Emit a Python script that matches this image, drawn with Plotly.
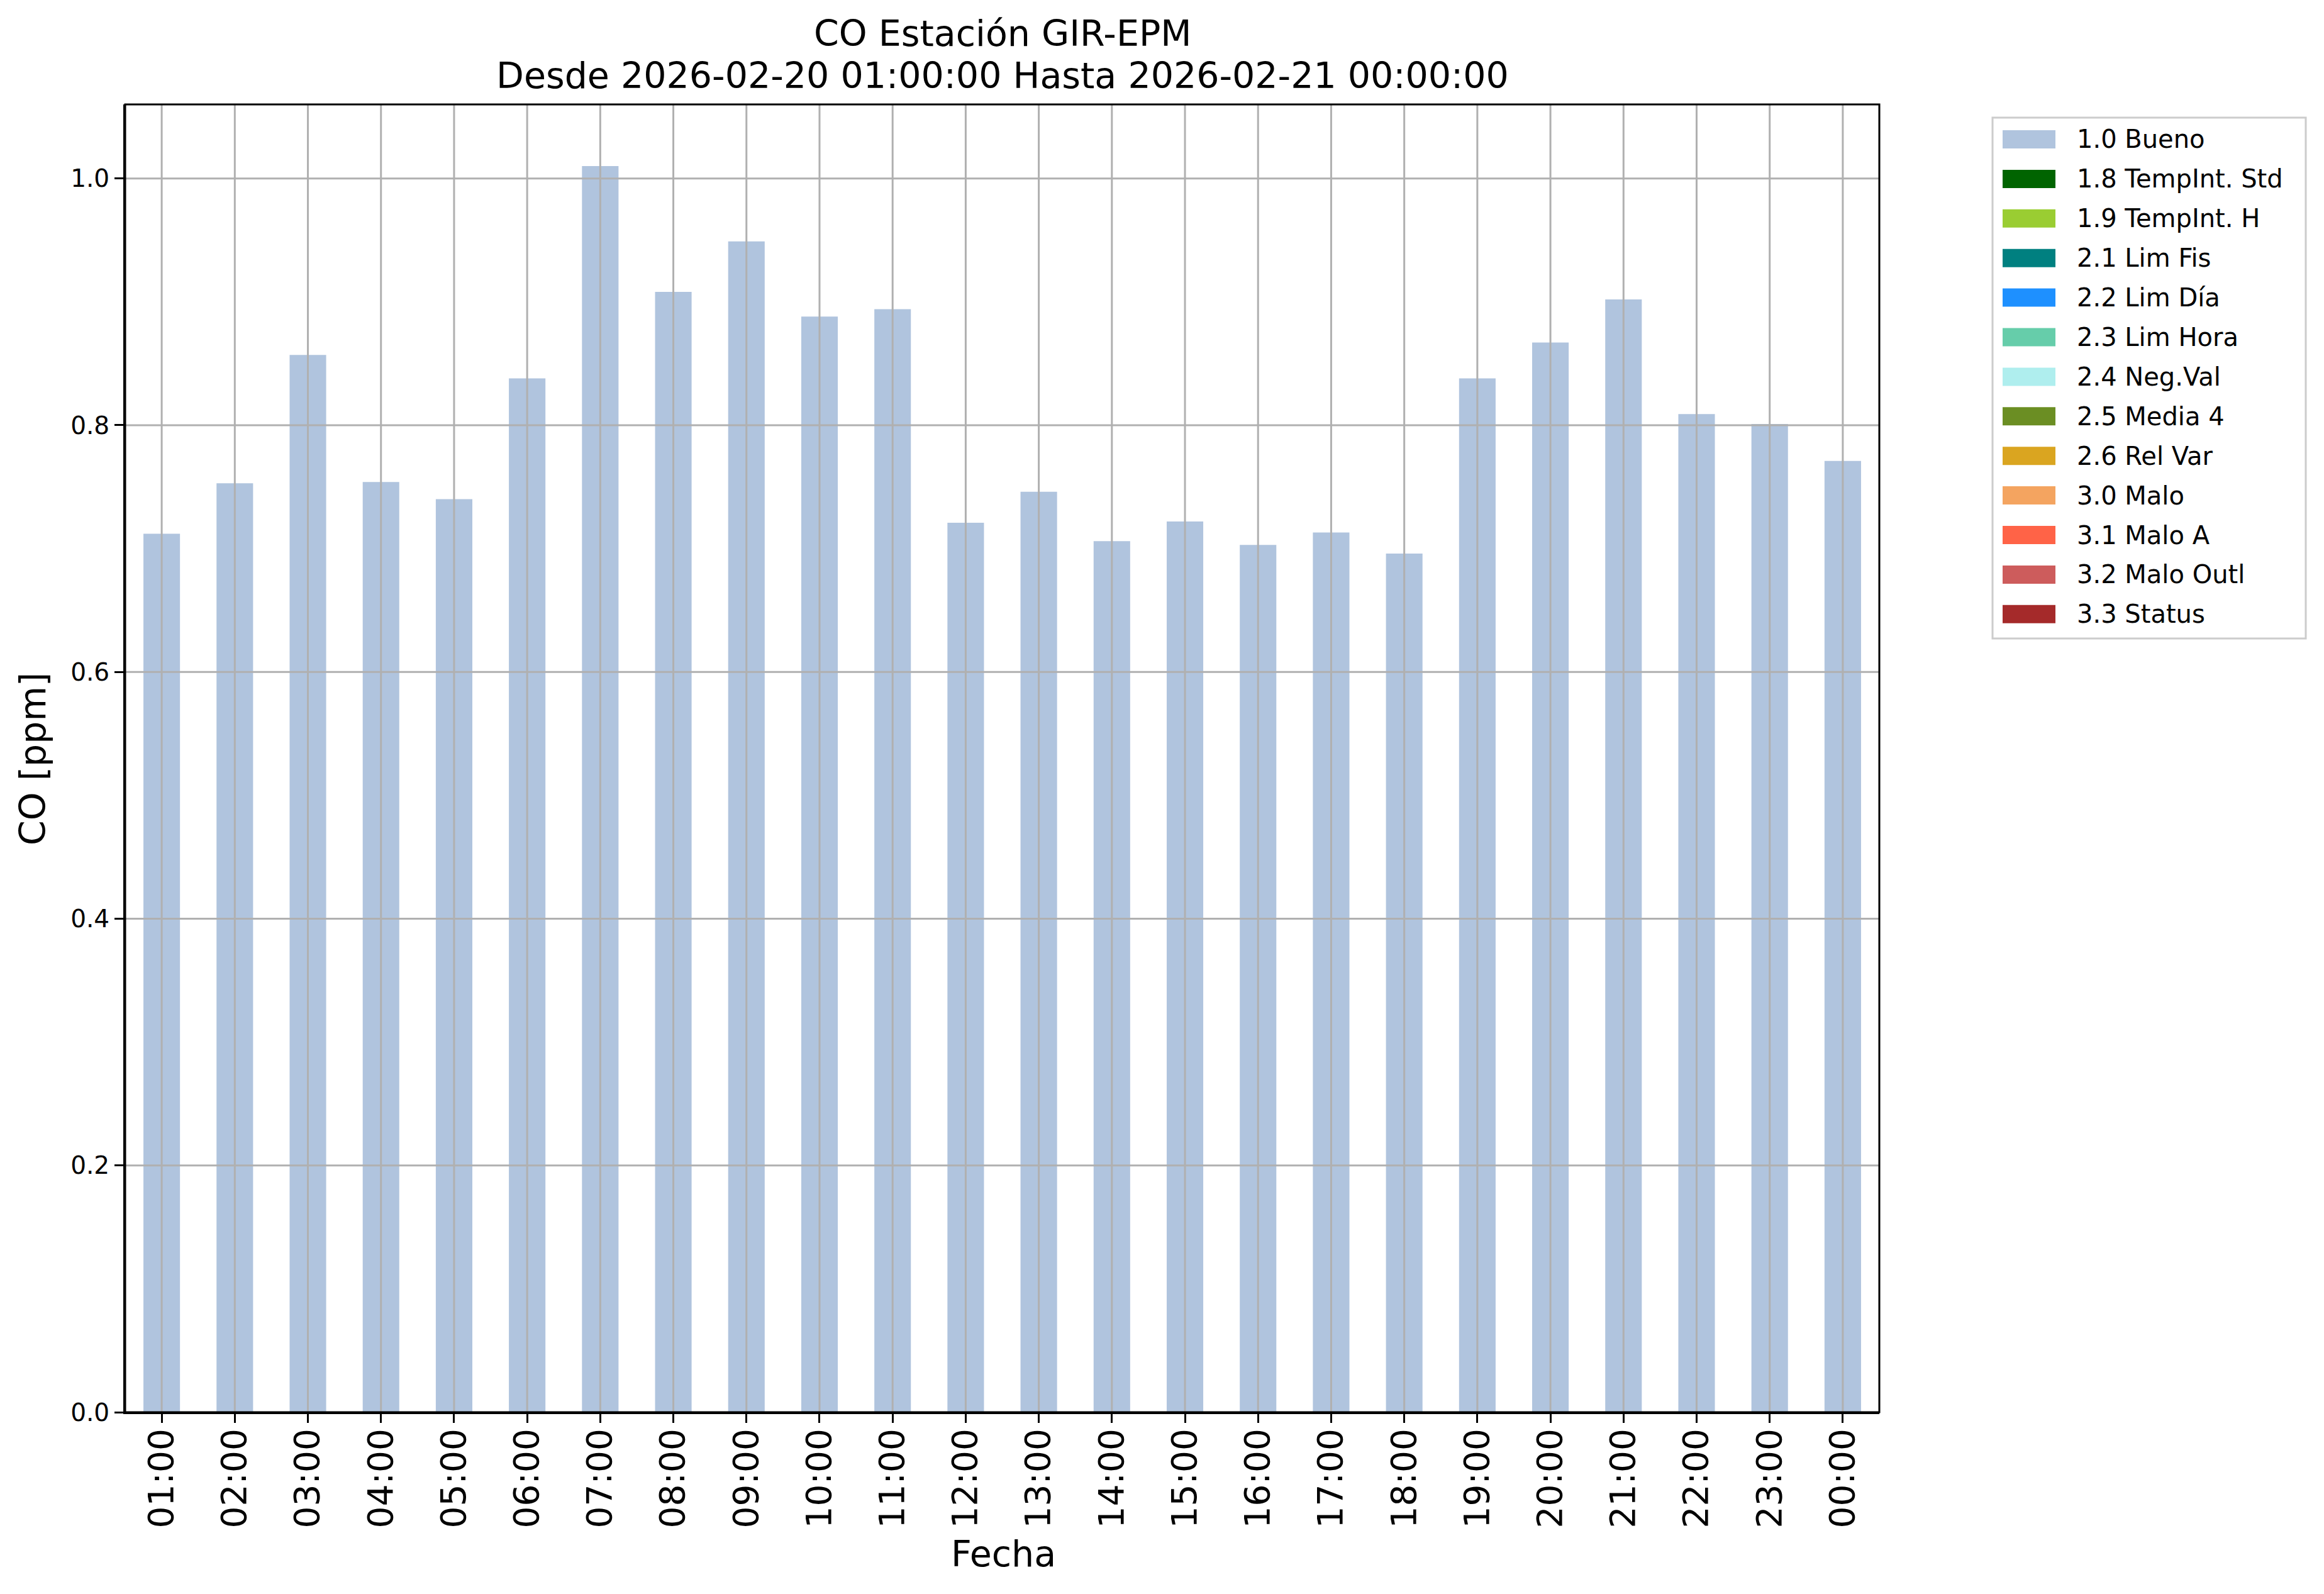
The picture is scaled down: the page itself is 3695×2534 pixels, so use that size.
import plotly.graph_objects as go

# ---------------- data ----------------
hours = ["01:00", "02:00", "03:00", "04:00", "05:00", "06:00", "07:00", "08:00",
         "09:00", "10:00", "11:00", "12:00", "13:00", "14:00", "15:00", "16:00",
         "17:00", "18:00", "19:00", "20:00", "21:00", "22:00", "23:00", "00:00"]
co_ppm = [0.712, 0.753, 0.857, 0.754, 0.740, 0.838, 1.010, 0.908,
          0.949, 0.888, 0.894, 0.721, 0.746, 0.706, 0.722, 0.703,
          0.713, 0.696, 0.838, 0.867, 0.902, 0.809, 0.801, 0.771]
flag_labels = ["1.0 Bueno", "1.8 TempInt. Std", "1.9 TempInt. H", "2.1 Lim Fis",
               "2.2 Lim Día", "2.3 Lim Hora", "2.4 Neg.Val", "2.5 Media 4",
               "2.6 Rel Var", "3.0 Malo", "3.1 Malo A", "3.2 Malo Outl", "3.3 Status"]
flag_colors = ["#B0C4DE", "#006400", "#9ACD32", "#008080", "#1E90FF", "#66CDAA",
               "#AFEEEE", "#6B8E23", "#DAA520", "#F4A460", "#FF6347", "#CD5C5C",
               "#A52A2A"]
y_ticks = [0.0, 0.2, 0.4, 0.6, 0.8, 1.0]
title_line1 = "CO Estación GIR-EPM"
title_line2 = "Desde 2026-02-20 01:00:00 Hasta 2026-02-21 00:00:00"
x_title = "Fecha"
y_title = "CO [ppm]"

# ---------------- geometry (page pixels; body has an 8px margin) ----------------
OFF = 8
W, H = 3695 - 2 * OFF, 2534 - 2 * OFF
L, R, T, B = 199 - OFF, 2988 - OFF, 166 - OFF, 2245 - OFF
PW, PH = R - L, B - T
FONT = "DejaVu Sans"
GRID = "#b0b0b0"


def px_x(px):
    return (px - OFF - L) / PW


def px_y(py):
    return (B - (py - OFF)) / PH


fig = go.Figure()
fig.add_trace(go.Bar(x=hours, y=co_ppm, marker=dict(color=flag_colors[0], line=dict(width=0)),
                     width=0.5, name=flag_labels[0], showlegend=False))

shapes = []
# grid lines drawn above the bars (as in the reference)
for h in hours:
    shapes.append(dict(type="line", xref="x", yref="paper", x0=h, x1=h, y0=0, y1=1,
                       line=dict(color=GRID, width=3), layer="above"))
for v in y_ticks[1:]:
    shapes.append(dict(type="line", xref="paper", yref="y", x0=0, x1=1, y0=v, y1=v,
                       line=dict(color=GRID, width=3), layer="above"))
# frame
shapes.append(dict(type="rect", xref="paper", yref="paper", x0=0, x1=1, y0=0, y1=1,
                   line=dict(color="black", width=3), layer="above"))

annotations = [
    dict(text=title_line1, xref="paper", yref="paper", x=0.5, y=px_y(53),
         xanchor="center", yanchor="middle", showarrow=False,
         font=dict(family=FONT, size=57, color="black")),
    dict(text=title_line2, xref="paper", yref="paper", x=0.5, y=px_y(120),
         xanchor="center", yanchor="middle", showarrow=False,
         font=dict(family=FONT, size=57, color="black")),
    dict(text=x_title, xref="paper", yref="paper", x=px_x(1595), y=px_y(2470),
         xanchor="center", yanchor="middle", showarrow=False,
         font=dict(family=FONT, size=57, color="black")),
    dict(text=y_title, xref="paper", yref="paper", x=px_x(52), y=px_y(1207),
         xanchor="center", yanchor="middle", showarrow=False, textangle=-90,
         font=dict(family=FONT, size=57, color="black")),
]

# legend box
lx0, lx1, ly0, ly1 = 3168, 3666, 187, 1015
shapes.append(dict(type="rect", xref="paper", yref="paper",
                   x0=px_x(lx0), x1=px_x(lx1), y0=px_y(ly1), y1=px_y(ly0),
                   line=dict(color="#cccccc", width=3), fillcolor="white", layer="above"))
row0, step = 221.5, 62.9
for i, (lab, col) in enumerate(zip(flag_labels, flag_colors)):
    cy = row0 + i * step
    shapes.append(dict(type="rect", xref="paper", yref="paper",
                       x0=px_x(3184), x1=px_x(3268), y0=px_y(cy + 14.5), y1=px_y(cy - 14.5),
                       line=dict(width=0), fillcolor=col, layer="above"))
    annotations.append(dict(text=lab, xref="paper", yref="paper", x=px_x(3300), y=px_y(cy),
                            xanchor="left", yanchor="middle", showarrow=False,
                            font=dict(family=FONT, size=40, color="black")))

fig.update_layout(
    width=W, height=H,
    margin=dict(l=L, r=W - R, t=T, b=H - B, pad=0),
    paper_bgcolor="white", plot_bgcolor="white",
    font=dict(family=FONT, color="black"),
    bargap=0.5,
    shapes=shapes, annotations=annotations,
    showlegend=False,
)
fig.update_xaxes(
    type="category", range=[-0.5, len(hours) - 0.5],
    showgrid=False, zeroline=False,
    showline=True, linecolor="black", linewidth=3,
    ticks="outside", ticklen=14, tickwidth=3, tickcolor="black",
    tickangle=-90, tickfont=dict(family=FONT, size=55, color="black"),
    ticklabelstandoff=-13,
)
fig.update_yaxes(
    range=[0, 1.06], tickvals=y_ticks, ticktext=[f"{v:.1f}" for v in y_ticks],
    showgrid=False, zeroline=False,
    showline=True, linecolor="black", linewidth=3,
    ticks="outside", ticklen=14, tickwidth=3, tickcolor="black",
    tickfont=dict(family=FONT, size=39, color="black"),
)

fig.write_html("out.html")
